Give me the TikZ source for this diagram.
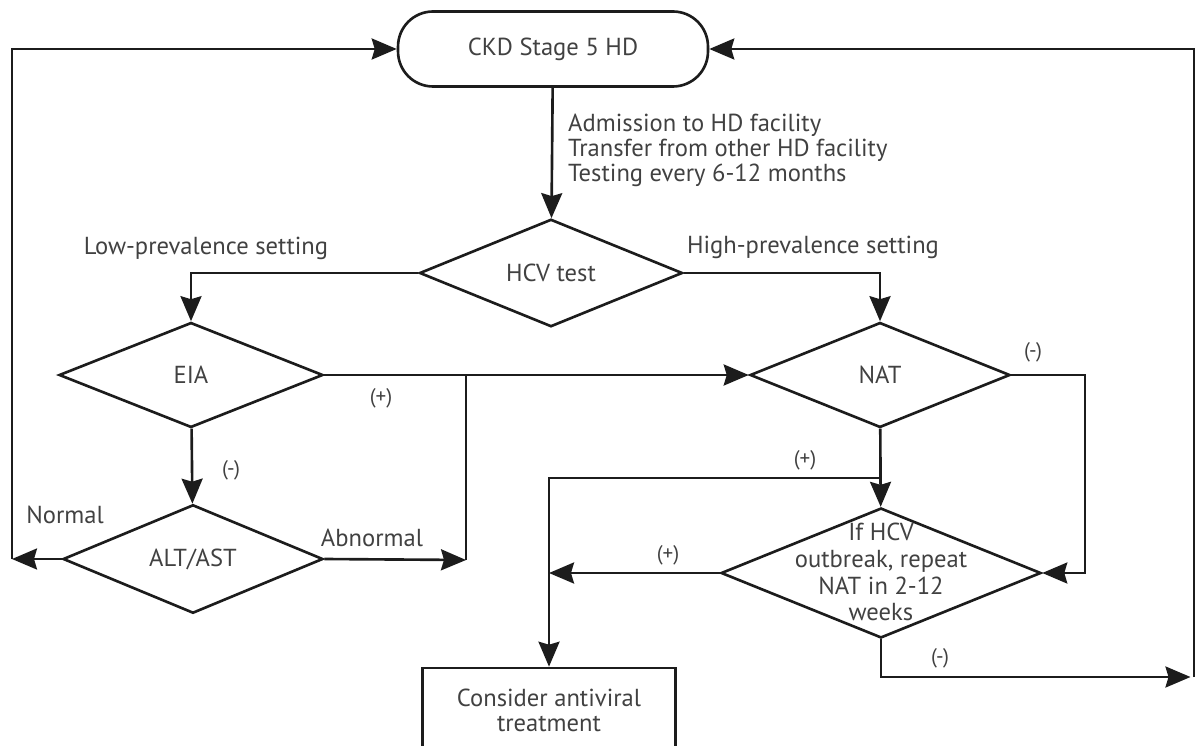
\documentclass[tikz,border=0pt]{standalone}
\usepackage{fontspec}
\setmainfont{PT Sans}
\usepackage{tikz}
\usetikzlibrary{positioning, arrows.meta, shapes.geometric}
\definecolor{lineC}{RGB}{28, 28, 28}
\definecolor{textC}{RGB}{65, 65, 65}

\begin{document}
\begin{tikzpicture}[x=0.02cm, y=-0.02cm, font=\fontsize{14}{14.3}\selectfont,
    every node/.style={text=textC},
    flow/.style={draw=lineC, line width=1.5pt},
    arr/.style={flow, -{Stealth[length=0.5cm, width=0.42cm, inset=0.06cm, fill=lineC]}},
    terminal/.style={rectangle, rounded corners=0.7cm, draw=lineC, line width=1.5pt,
      minimum width=6.2cm, minimum height=1.5cm},
    decision/.style={diamond, draw=lineC, line width=1.5pt, inner sep=0pt,
      minimum width=5.2cm, minimum height=2.1cm},
    action/.style={rectangle, draw=lineC, line width=1.5pt, align=center,
      minimum width=5.06cm, minimum height=1.68cm}]
  \clip (0,0) rectangle (1195,746);

  % nodes
  \node[terminal] (ckd) at (553,49) {CKD Stage 5 HD};
  \node[decision, minimum width=5.26cm] (hcv) at (551,273) {HCV test};
  \node[decision, minimum width=5.28cm] (eia) at (191,375) {EIA};
  \node[decision] (alt) at (193,559) {ALT/AST};
  \node[decision] (nat) at (880,375) {NAT};
  \node[decision, minimum width=6.4cm, minimum height=2.6cm] (rep) at (881,573) {};
  \node[align=center, font=\fontsize{14}{15.3}\selectfont] (reptext) at (881,572)
    {If HCV\\outbreak, repeat\\NAT in 2-12\\weeks};
  \node[action] (cons) at (549,710) {Consider antiviral\\treatment};

  % helper points
  \coordinate (lft) at (12,559);
  \coordinate (abn) at (466,560);
  \coordinate (natr) at (1085,375);
  \coordinate (split) at (881,478);
  \coordinate (rgt) at (1194,677);

  % connectors
  \draw[arr] (ckd) -- (hcv);
  \node[anchor=west, align=left] (entry) at (562,150)
    {Admission to HD facility\\Transfer from other HD facility\\Testing every 6-12 months};
  \draw[arr] (hcv.west) -| (eia.north);
  \draw[arr] (hcv.east) -| (nat.north);
  \draw[arr] (eia.east) -- (nat.west);
  \draw[arr] (eia) -- (alt);
  \draw[arr] (alt.west) -- (lft);
  \draw[arr] (lft) |- (ckd.west);
  \draw[arr] (alt.east) -- (abn);
  \draw[flow] (abn) -- (abn |- eia.east);
  \draw[arr] (nat.east) -- (natr) |- (rep.east);
  \draw[arr] (nat) -- (rep);
  \draw[arr] (split) -| (cons.north);
  \draw[arr] (rep.west) -- (rep.west -| cons.north);
  \draw[arr] (rep.south) |- ([xshift=-2]rgt);
  \draw[arr] (rgt) |- (ckd.east);

  % labels
  \node (lowset) at (206,248) {Low-prevalence setting};
  \node (highset) at (813,247) {High-prevalence setting};
  \node (normal) at (65,515) {Normal};
  \node (abnormal) at (372,538) {Abnormal};
  \foreach \px/\py/\s/\nm in {381/398/+/a, 805/460/+/b, 668/555/+/c,
      231/470/-/d, 1033/352/-/e, 940/658/-/f} {
    \node[font=\fontsize{12}{12}\selectfont] (sign-\nm) at (\px,\py) {(\s)};
  }
\end{tikzpicture}
\end{document}
